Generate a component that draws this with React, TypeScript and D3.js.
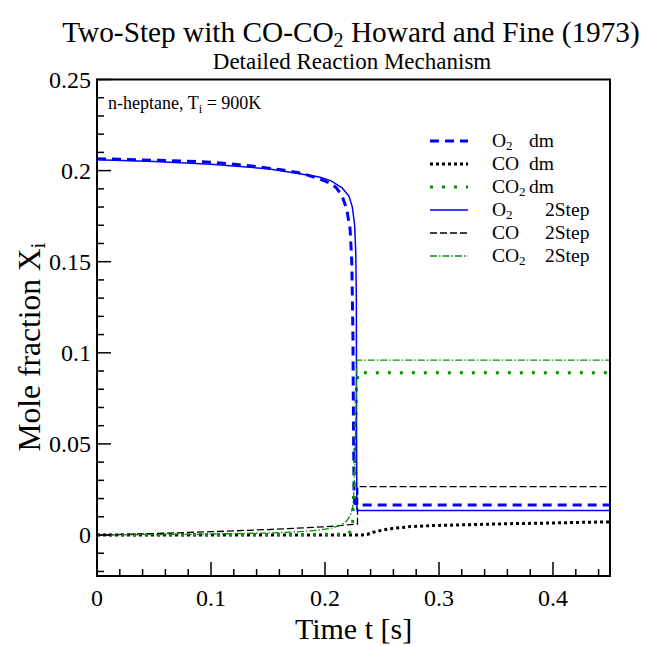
import React, { useEffect, useRef } from 'react';
import * as d3 from 'd3';

// ---------------- Data ----------------
const o2DmT = [0, 0.02, 0.05, 0.08, 0.1, 0.13, 0.16, 0.18, 0.195, 0.205, 0.21, 0.215, 0.219, 0.222, 0.2235, 0.2245, 0.225, 0.2255, 0.226, 0.23, 0.3, 0.45];
const o2DmV = [0.2065, 0.2062, 0.2057, 0.2051, 0.2046, 0.2029, 0.2006, 0.1985, 0.1955, 0.193, 0.1905, 0.186, 0.179, 0.168, 0.15, 0.11, 0.06, 0.025, 0.0175, 0.0165, 0.0165, 0.0165];

const coDmT = [0, 0.225, 0.233, 0.237, 0.241, 0.245, 0.255, 0.265, 0.275, 0.295, 0.33, 0.36, 0.4, 0.43, 0.45];
const coDmV = [0, 0, 0, 0.0003, 0.0012, 0.002, 0.0032, 0.004, 0.0046, 0.0052, 0.0057, 0.0062, 0.0066, 0.007, 0.0072];

const co2DmT = [0, 0.22, 0.224, 0.2255, 0.2275, 0.229, 0.45];
const co2DmV = [0, 0.0004, 0.003, 0.03, 0.08, 0.089, 0.089];

const o2StepT = [0, 0.05, 0.1, 0.15, 0.175, 0.195, 0.205, 0.215, 0.221, 0.224, 0.226, 0.227, 0.2275, 0.2277, 0.228, 0.45];
const o2StepV = [0.206, 0.205, 0.2035, 0.201, 0.1985, 0.1965, 0.1945, 0.1905, 0.186, 0.18, 0.17, 0.155, 0.13, 0.05, 0.0135, 0.0135];

const coStepT = [0, 0.05, 0.1, 0.15, 0.2, 0.215, 0.225, 0.2285, 0.2287, 0.45];
const coStepV = [0, 0.0008, 0.0018, 0.003, 0.0045, 0.0053, 0.0058, 0.006, 0.0265, 0.0265];

const co2StepT = [0, 0.05, 0.1, 0.15, 0.175, 0.195, 0.205, 0.213, 0.219, 0.2225, 0.2245, 0.2255, 0.2265, 0.2275, 0.228, 0.45];
const co2StepV = [0, 0.0002, 0.0005, 0.0011, 0.0017, 0.0027, 0.0036, 0.0052, 0.0077, 0.011, 0.016, 0.025, 0.045, 0.08, 0.096, 0.096];

const xMajorTicks = [0, 0.1, 0.2, 0.3, 0.4];
const xTickLabels = ['0', '0.1', '0.2', '0.3', '0.4'];
const yMajorTicks = [0, 0.05, 0.1, 0.15, 0.2, 0.25];
const yTickLabels = ['0', '0.05', '0.1', '0.15', '0.2', '0.25'];

const seriesSpecies = ['O', 'CO', 'CO', 'O', 'CO', 'CO'];
const seriesSub = ['2', '', '2', '2', '', '2'];
const seriesModel = ['dm', 'dm', 'dm', '2Step', '2Step', '2Step'];

const BLUE = '#0000ff';
const GREEN = '#0a8f0a';
const FONT = 'Liberation Serif, Times New Roman, DejaVu Serif, serif';

export default function App() {
  const ref = useRef<SVGSVGElement | null>(null);

  useEffect(() => {
    const svg = d3.select(ref.current);
    svg.selectAll('*').remove();
    const W = 645, H = 646;
    const L = 97, R = 610, T = 79.5, B = 576;
    const x = d3.scaleLinear().domain([0, 0.45]).range([L, R]);
    const y = d3.scaleLinear().domain([-0.0225, 0.25]).range([B, T]);

    svg.attr('width', W).attr('height', H);
    svg.append('rect').attr('width', W).attr('height', H).attr('fill', '#fff');

    const txt = (xx: number, yy: number, size: number, anchor = 'start') =>
      svg.append('text').attr('x', xx).attr('y', yy).attr('font-size', size)
        .attr('text-anchor', anchor).attr('font-family', FONT).attr('fill', '#000')
        .style('white-space', 'pre');

    // Title
    const title = txt(351, 42, 29.3, 'middle');
    title.append('tspan').text('Two-Step with CO-CO');
    title.append('tspan').attr('font-size', 20).attr('dy', 5).text('2');
    title.append('tspan').attr('dy', -5).text(' Howard and Fine (1973)');
    txt(352, 69, 23, 'middle').text('Detailed Reaction Mechanism');

    // clip
    svg.append('clipPath').attr('id', 'clip').append('rect')
      .attr('x', L).attr('y', T).attr('width', R - L).attr('height', B - T);

    const series = [
      { t: o2DmT, v: o2DmV, color: BLUE, w: 3, dash: '9,6' },
      { t: coDmT, v: coDmV, color: '#000', w: 3, dash: '3,3' },
      { t: co2DmT, v: co2DmV, color: GREEN, w: 3, dash: '3,9' },
      { t: o2StepT, v: o2StepV, color: BLUE, w: 1.5, dash: null },
      { t: coStepT, v: coStepV, color: '#000', w: 1.3, dash: '7,3' },
      { t: co2StepT, v: co2StepV, color: GREEN, w: 1.3, dash: '7,2,1.5,2' },
    ];

    const line = d3.line<[number, number]>().x(d => x(d[0])).y(d => y(d[1]));
    const g = svg.append('g').attr('clip-path', 'url(#clip)');
    series.forEach(s => {
      const pts = s.t.map((t, i) => [t, s.v[i]] as [number, number]);
      const p = g.append('path').attr('d', line(pts)).attr('fill', 'none')
        .attr('stroke', s.color).attr('stroke-width', s.w);
      if (s.dash) p.attr('stroke-dasharray', s.dash);
    });

    // Frame
    svg.append('rect').attr('x', L).attr('y', T).attr('width', R - L).attr('height', B - T)
      .attr('fill', 'none').attr('stroke', '#000').attr('stroke-width', 2);

    // X ticks
    const xMinor = d3.range(0, 0.4501, 0.02).filter(v => !xMajorTicks.some(m => Math.abs(m - v) < 1e-6));
    xMajorTicks.forEach((v, i) => {
      svg.append('line').attr('x1', x(v)).attr('x2', x(v)).attr('y1', B).attr('y2', B - 14)
        .attr('stroke', '#000').attr('stroke-width', 1.5);
      txt(x(v), 606, 24, 'middle').text(xTickLabels[i]);
    });
    xMinor.forEach(v => {
      svg.append('line').attr('x1', x(v)).attr('x2', x(v)).attr('y1', B).attr('y2', B - 7)
        .attr('stroke', '#000').attr('stroke-width', 1.5);
    });

    // Y ticks
    const yMinor = d3.range(-0.02, 0.2501, 0.01).filter(v => !yMajorTicks.some(m => Math.abs(m - v) < 1e-6));
    yMajorTicks.forEach((v, i) => {
      svg.append('line').attr('x1', L).attr('x2', L + 14).attr('y1', y(v)).attr('y2', y(v))
        .attr('stroke', '#000').attr('stroke-width', 1.5);
      txt(91, y(v) + 8, 24, 'end').text(yTickLabels[i]);
    });
    yMinor.forEach(v => {
      svg.append('line').attr('x1', L).attr('x2', L + 7).attr('y1', y(v)).attr('y2', y(v))
        .attr('stroke', '#000').attr('stroke-width', 1.5);
    });

    // Axis labels
    txt((L + R) / 2, 639, 30, 'middle').text('Time t [s]');
    const yl = svg.append('text').attr('transform', `translate(40,347) rotate(-90)`)
      .attr('text-anchor', 'middle').attr('font-size', 31.5).attr('font-family', FONT);
    yl.append('tspan').text('Mole fraction X');
    yl.append('tspan').attr('font-size', 21).attr('dy', 5).text('i');

    // Annotation
    const an = txt(108, 109, 18);
    an.append('tspan').text('n-heptane, T');
    an.append('tspan').attr('font-size', 12.5).attr('dy', 4).text('i');
    an.append('tspan').attr('dy', -4).text(' = 900K');

    // Legend
    const ly0 = 141, ldy = 23;
    series.forEach((s, i) => {
      const yy = ly0 + i * ldy;
      const l = svg.append('line').attr('x1', 430).attr('x2', 468).attr('y1', yy).attr('y2', yy)
        .attr('stroke', s.color).attr('stroke-width', s.w);
      if (s.dash) l.attr('stroke-dasharray', s.dash);
      const t = txt(492, yy + 6, 19.5);
      t.append('tspan').text(seriesSpecies[i]);
      if (seriesSub[i]) t.append('tspan').attr('font-size', 13).attr('dy', 3).text(seriesSub[i]);
      txt(seriesModel[i] === 'dm' ? 529 : 545, yy + 6, 19.5).text(seriesModel[i]);
    });
  }, []);

  return <svg ref={ref} style={{ position: 'absolute', left: 0, top: 0 }} />;
}
